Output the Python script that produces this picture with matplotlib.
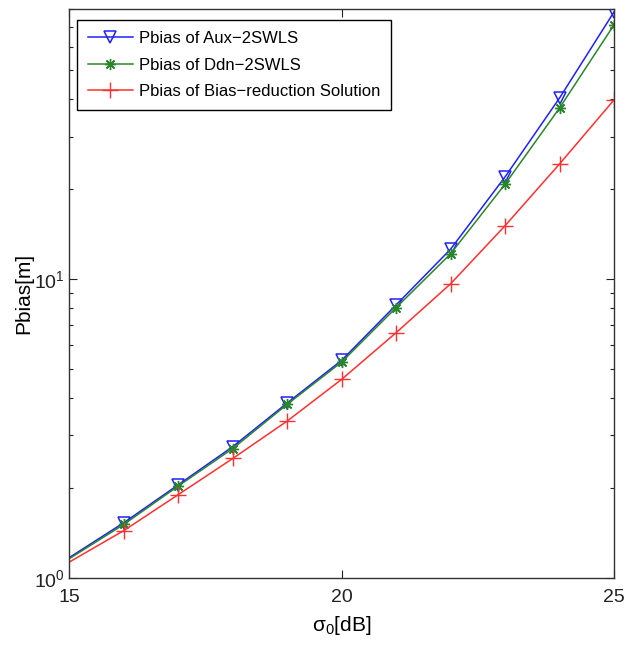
import matplotlib
matplotlib.use('Agg')
import matplotlib.pyplot as plt
from matplotlib.ticker import LogLocator, NullFormatter, FixedLocator

plt.rcParams['font.family'] = ['Liberation Sans', 'DejaVu Sans']
plt.rcParams['mathtext.fontset'] = 'custom'
plt.rcParams['mathtext.rm'] = 'Liberation Sans'
plt.rcParams['mathtext.it'] = 'Liberation Sans:italic'

# Data
sigma = [15, 16, 17, 18, 19, 20, 21, 22, 23, 24, 25]
pbias_aux = [1.17, 1.53, 2.05, 2.75, 3.85, 5.35, 8.2, 12.6, 22.0, 40.4, 78.4]
pbias_ddn = [1.16, 1.51, 2.03, 2.71, 3.81, 5.28, 8.03, 12.16, 20.8, 37.4, 71.0]
pbias_br = [1.13, 1.44, 1.9, 2.51, 3.35, 4.62, 6.62, 9.65, 15.1, 24.3, 39.8]

labels = ['Pbias of Aux\u22122SWLS', 'Pbias of Ddn\u22122SWLS',
          'Pbias of Bias\u2212reduction Solution']

fig = plt.figure(figsize=(6.36, 6.45), dpi=100)
ax = fig.add_axes([0.109, 0.104, 0.8565, 0.8816])

mk = slice(1, None)
ax.plot(sigma, pbias_aux, color='#2020ff', lw=1.1, marker='v', ms=9,
        mfc='none', mec='#2020ff', mew=1.1, markevery=mk, label=labels[0])
ax.plot(sigma, pbias_ddn, color='#2a862a', lw=1.1, marker=(8, 2, 0), ms=8,
        mec='#2a862a', mew=1.0, markevery=mk, label=labels[1])
ax.plot(sigma, pbias_br, color='#ff3030', lw=1.1, marker='+', ms=11,
        mec='#ff3030', mew=1.0, markevery=mk, label=labels[2])

ax.set_yscale('log')
ax.set_xlim(15, 25)
ax.set_ylim(1, 80)
ax.xaxis.set_major_locator(FixedLocator([15, 20, 25]))
ax.yaxis.set_major_locator(LogLocator(base=10))
ax.yaxis.set_minor_locator(LogLocator(base=10, subs=range(2, 10)))
ax.yaxis.set_minor_formatter(NullFormatter())

ax.tick_params(which='both', direction='in', top=True, right=True,
               labelsize=14, colors='#222222')
ax.tick_params(axis='x', which='major', pad=8)
ax.tick_params(axis='y', which='major', pad=3)
ax.tick_params(which='major', length=6, width=0.8)
ax.tick_params(which='minor', length=3, width=0.8)
for s in ax.spines.values():
    s.set_color('#333333')
    s.set_linewidth(1.0)

ax.set_xlabel('\u03c3$_0$[dB]', fontsize=15)
ax.set_ylabel('Pbias[m]', fontsize=15)
ax.xaxis.set_label_coords(0.5, -0.064)
ax.yaxis.set_label_coords(-0.066, 0.5)

leg = ax.legend(loc='upper left', fontsize=12, fancybox=False, framealpha=1,
                edgecolor='black', handlelength=2.7, borderpad=0.65,
                labelspacing=0.7, handletextpad=0.35, borderaxespad=0,
                bbox_to_anchor=(0.014, 0.981))
leg.get_frame().set_linewidth(1.0)

fig.savefig('out.png', dpi=100)
